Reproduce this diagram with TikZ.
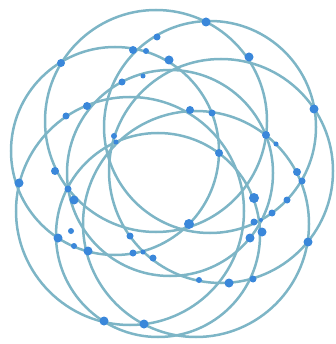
\documentclass[tikz,border=0pt]{standalone}
\usepackage{tikz}
\definecolor{ringcol}{HTML}{7DB5C6}
\definecolor{dotcol}{HTML}{3A87DA}

\begin{document}
\begin{tikzpicture}[
  x=1pt, y=-1pt,
  ring/.style={draw=ringcol, line width=2.5pt},
  knot/.style={circle, fill=dotcol, inner sep=0pt, minimum size=#1},
  knot/.default=8pt,
]
\useasboundingbox (0,0) rectangle (335,344);

% ---------- ring centres ----------
\coordinate (c1) at (156,121);
\coordinate (c2) at (210,127);
\coordinate (c3) at (221,171);
\coordinate (c4) at (196,224);
\coordinate (c5) at (158,235);
\coordinate (c6) at (130,211);
\coordinate (c7) at (115,151);
\coordinate (c8) at (170,173);

% ---------- rings ----------
\draw[ring] (c1) circle (111);
\draw[ring] (c2) circle (106);
\draw[ring] (c3) circle (112);
\draw[ring] (c4) circle (113);
\draw[ring] (c5) circle (102);
\draw[ring] (c6) circle (114);
\draw[ring] (c7) circle (104);
\draw[ring] (c8) circle (103);

% ---------- crossing points ----------
\node[knot] (k1) at (61,63) {};
\node[knot] (k2) at (133,50) {};
\node[knot=6pt] (k3) at (146,51) {};
\node[knot=7pt] (k4) at (157,37) {};
\node[knot=9pt] (k5) at (169,60) {};
\node[knot=7pt] (k6) at (122,82) {};
\node[knot=5pt] (k7) at (143,76) {};
\node[knot] (k8) at (87,106) {};
\node[knot=7pt] (k9) at (66,116) {};
\node[knot=6pt] (k10) at (114,136) {};
\node[knot=5pt] (k11) at (116,142) {};
\node[knot] (k12) at (55,171) {};
\node[knot=9pt] (k13) at (206,22) {};
\node[knot=9pt] (k14) at (249,57) {};
\node[knot=9pt] (k15) at (314,109) {};
\node[knot] (k16) at (190,110) {};
\node[knot=7pt] (k17) at (212,113) {};
\node[knot] (k18) at (266,135) {};
\node[knot=5pt] (k19) at (276,144) {};
\node[knot] (k20) at (219,153) {};
\node[knot] (k21) at (297,172) {};
\node[knot=7pt] (k22) at (302,181) {};
\node[knot=9pt] (k23) at (19,183) {};
\node[knot=7pt] (k24) at (68,189) {};
\node[knot=9pt] (k25) at (74,200) {};
\node[knot=6pt] (k26) at (71,231) {};
\node[knot=9pt] (k27) at (58,238) {};
\node[knot=6pt] (k28) at (74,246) {};
\node[knot=9pt] (k29) at (88,251) {};
\node[knot=7pt] (k30) at (130,236) {};
\node[knot=7pt] (k31) at (133,253) {};
\node[knot=5pt] (k32) at (143,252) {};
\node[knot=7pt] (k33) at (153,258) {};
\node[knot=9pt] (k34) at (104,321) {};
\node[knot=9pt] (k35) at (144,324) {};
\node[knot=10pt] (k36) at (254,198) {};
\node[knot=7pt] (k37) at (287,200) {};
\node[knot=7pt] (k38) at (272,213) {};
\node[knot=7pt] (k39) at (254,222) {};
\node[knot=4pt] (k40) at (261,220) {};
\node[knot=9pt] (k41) at (262,232) {};
\node[knot=9pt] (k42) at (250,238) {};
\node[knot=9pt] (k43) at (308,242) {};
\node[knot=10pt] (k44) at (189,224) {};
\node[knot=6pt] (k45) at (199,280) {};
\node[knot=9pt] (k46) at (229,283) {};
\node[knot=7pt] (k47) at (253,279) {};

\end{tikzpicture}
\end{document}
